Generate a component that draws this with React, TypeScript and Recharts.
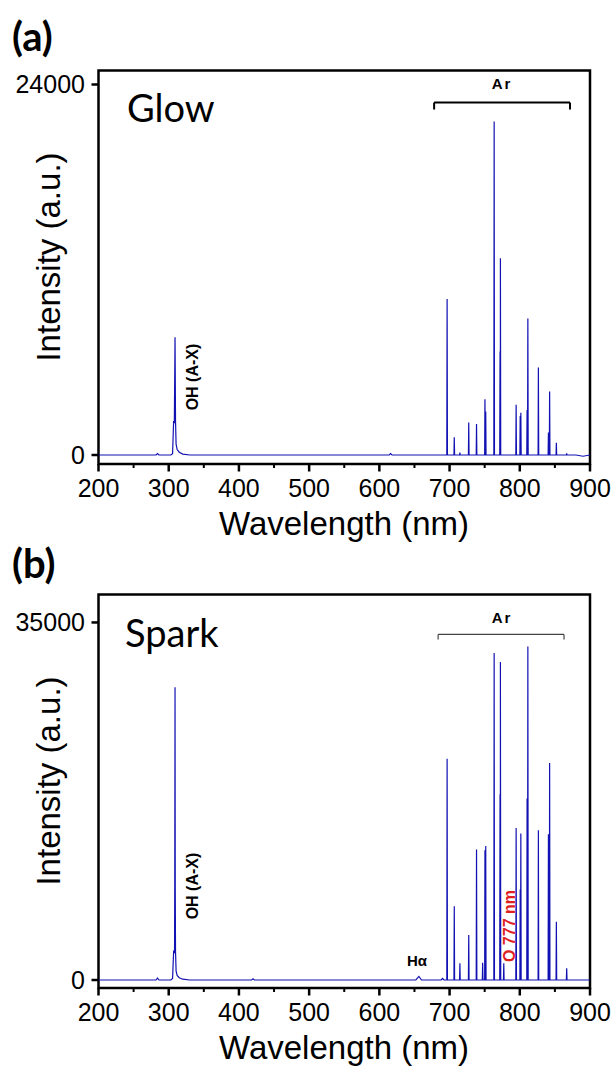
import React from "react";
import { LineChart, Line, XAxis, YAxis, ReferenceArea, ReferenceLine } from "recharts";

// ---------- data ----------
const xTicks = [200, 250, 300, 350, 400, 450, 500, 550, 600, 650, 700, 750, 800, 850, 900];

// Glow: broad/continuum features (nm, intensity)
const glowContNm = [200, 230, 282, 284, 286, 303, 305.5, 307, 308, 309, 309.7, 310.5, 312, 315, 320, 330, 614, 616, 618, 880, 890, 900];
const glowContI = [0, 0, 0, 90, 0, 0, 80, 2200, 2050, 7630, 2200, 700, 350, 180, 60, 0, 0, 90, 0, 0, -80, 0];
// Glow: Ar atomic lines
const glowPeakNm = [696.5, 706.7, 714.7, 727.3, 738.4, 750.4, 751.5, 763.5, 771.9, 772.4, 794.8, 800.6, 801.5, 810.4, 811.5, 826.5, 840.8, 842.5, 852.1, 866.8];
const glowPeakI = [10100, 1150, 150, 2100, 2010, 3610, 2810, 21600, 6700, 12750, 3260, 2530, 2740, 2920, 8840, 5660, 1450, 4110, 800, 110];

// Spark: broad/continuum features
const sparkContNm = [200, 245, 282, 284, 286, 303, 305.5, 307, 308.3, 308.6, 309, 309.3, 309.7, 310.5, 312, 315, 320, 330, 418, 420, 422, 652, 656.3, 660, 688, 690, 692, 900];
const sparkContI = [0, 0, 0, 200, 0, 0, 150, 2800, 2700, 9200, 28670, 9200, 2800, 900, 450, 220, 80, 0, 0, 120, 0, 0, 350, 0, 0, 150, 0, 0];
// Spark: Ar lines + O 777
const sparkPeakNm = [696.5, 706.7, 714.7, 727.3, 738.4, 747.1, 750.4, 751.5, 763.5, 771.9, 772.4, 777.2, 794.8, 800.6, 801.5, 810.4, 811.5, 826.5, 840.8, 842.5, 852.1, 866.8];
const sparkPeakI = [21670, 7230, 1630, 4400, 12780, 1700, 12700, 13130, 32000, 18180, 31120, 1630, 14890, 8870, 14340, 17760, 32650, 14660, 14270, 21240, 5700, 1140];

const glowYTicks = [0, 24000];
const sparkYTicks = [0, 35000];
const glowDomain = [-583, 24907];
const sparkDomain = [-782, 37737];

// ---------- build tables ----------
const HALF = 0.45;
function buildSpectrum(cNm: number[], cI: number[], pNm: number[], pI: number[]) {
  const rows: { nm: number; i: number }[] = [];
  cNm.forEach((n, k) => rows.push({ nm: n, i: cI[k] }));
  pNm.forEach((n, k) => {
    rows.push({ nm: n - HALF, i: 0 });
    rows.push({ nm: n, i: pI[k] });
    rows.push({ nm: n + HALF, i: 0 });
  });
  rows.sort((a, b) => a.nm - b.nm);
  return rows;
}
const glowData = buildSpectrum(glowContNm, glowContI, glowPeakNm, glowPeakI);
const sparkData = buildSpectrum(sparkContNm, sparkContI, sparkPeakNm, sparkPeakI);

const ARIAL = "'Liberation Sans', Arial, sans-serif";
const CALIBRI = "Lato, 'Open Sans', sans-serif";
const LINE = "#1212b4";

const XTick = (props: any) => {
  const { x, y, payload } = props;
  const major = payload.value % 100 === 0;
  return (
    <g>
      <line x1={x} y1={y} x2={x} y2={y + (major ? 7.5 : 4)} stroke="#000" strokeWidth={major ? 2.5 : 2} />
      {major && (
        <text x={x} y={y + 15} dy="0.71em" textAnchor="middle" fontSize={25} fontFamily={ARIAL} fill="#000">
          {payload.value}
        </text>
      )}
    </g>
  );
};

function Panel(props: {
  data: { nm: number; i: number }[];
  domain: number[];
  yTicks: number[];
  height: number;
  top: number;
  bracket: { x1: number; x2: number; y: number; drop: number; color: string; w: number };
}) {
  const { data, domain, yTicks, height, top, bracket } = props;
  return (
    <div style={{ position: "absolute", left: 0, top }}>
      <LineChart width={614} height={height} data={data} margin={{ top: 70.5, right: 24, left: 0, bottom: 0 }}>
        <XAxis
          dataKey="nm"
          type="number"
          domain={[200, 900]}
          ticks={xTicks}
          interval={0}
          allowDataOverflow
          axisLine={false}
          tickLine={false}
          tickSize={0}
          tickMargin={0}
          tick={<XTick />}
          height={height - 70.5 - 393.5}
        />
        <YAxis
          type="number"
          domain={domain}
          ticks={yTicks}
          interval={0}
          allowDataOverflow
          axisLine={false}
          tickLine={{ stroke: "#000", strokeWidth: 2.5 }}
          tickSize={7}
          tickMargin={6.5}
          width={98.5}
          tick={{ fill: "#000", fontSize: 25, fontFamily: ARIAL }}
        />
        <ReferenceArea x1={200} x2={900} y1={domain[0]} y2={domain[1]} fill="#fff" fillOpacity={0} stroke="#000" strokeWidth={2.5} ifOverflow="visible" />
        <ReferenceLine segment={[{ x: bracket.x1, y: bracket.y }, { x: bracket.x2, y: bracket.y }]} stroke={bracket.color} strokeWidth={bracket.w} ifOverflow="visible" />
        <ReferenceLine segment={[{ x: bracket.x1, y: bracket.y }, { x: bracket.x1, y: bracket.y - bracket.drop }]} stroke={bracket.color} strokeWidth={bracket.w} ifOverflow="visible" />
        <ReferenceLine segment={[{ x: bracket.x2, y: bracket.y }, { x: bracket.x2, y: bracket.y - bracket.drop }]} stroke={bracket.color} strokeWidth={bracket.w} ifOverflow="visible" />
        <Line type="linear" dataKey="i" stroke={LINE} strokeWidth={1.2} dot={false} isAnimationActive={false} />
      </LineChart>
    </div>
  );
}

export default function App() {
  return (
    <div style={{ position: "absolute", left: 0, top: 0, width: 614, height: 1072, background: "#fff", overflow: "hidden" }}>
      <Panel
        data={glowData}
        domain={glowDomain}
        yTicks={glowYTicks}
        height={540}
        top={0}
        bracket={{ x1: 678, x2: 871.5, y: 22830, drop: 450, color: "#000", w: 2 }}
      />
      <Panel
        data={sparkData}
        domain={sparkDomain}
        yTicks={sparkYTicks}
        height={548}
        top={523.5}
        bracket={{ x1: 683.7, x2: 863, y: 33826, drop: 500, color: "#444", w: 1.2 }}
      />
      <svg width={614} height={1072} style={{ position: "absolute", left: 0, top: 0, pointerEvents: "none" }}>
        <text x={12} y={51} fontSize={40} fontWeight="bold" fontFamily={CALIBRI} fill="#000">(a)</text>
        <text x={12} y={578} fontSize={40} fontWeight="bold" fontFamily={CALIBRI} fill="#000">(b)</text>
        <text x={127} y={122} fontSize={38} fontFamily={CALIBRI} fill="#000">Glow</text>
        <text x={125} y={647} fontSize={38} fontFamily={CALIBRI} fill="#000">Spark</text>

        <text x={502} y={89} fontSize={15} fontWeight="bold" fontFamily={ARIAL} letterSpacing={2} textAnchor="middle" fill="#000">Ar</text>
        <text x={502} y={623} fontSize={15} fontWeight="bold" fontFamily={ARIAL} letterSpacing={2} textAnchor="middle" fill="#000">Ar</text>

        <text x={192.5} y={377} dy="0.36em" transform="rotate(-90 192.5 377)" fontSize={16} fontWeight="bold" fontFamily={ARIAL} textAnchor="middle" fill="#000">OH (A-X)</text>
        <text x={192.5} y={886} dy="0.36em" transform="rotate(-90 192.5 886)" fontSize={16} fontWeight="bold" fontFamily={ARIAL} textAnchor="middle" fill="#000">OH (A-X)</text>
        <text x={417} y={961} dy="0.36em" fontSize={15} fontWeight="bold" fontFamily={ARIAL} textAnchor="middle" fill="#000">Hα</text>
        <text x={509.7} y={926} dy="0.36em" transform="rotate(-90 509.7 926)" fontSize={16} fontWeight="bold" fontFamily={ARIAL} textAnchor="middle" fill="#e0201f">O 777 nm</text>

        <text x={59.5} y={257} transform="rotate(-90 59.5 257)" fontSize={33} fontFamily={ARIAL} textAnchor="middle" fill="#000">Intensity (a.u.)</text>
        <text x={59.5} y={781} transform="rotate(-90 59.5 781)" fontSize={33} fontFamily={ARIAL} textAnchor="middle" fill="#000">Intensity (a.u.)</text>
        <text x={344} y={535} fontSize={33} fontFamily={ARIAL} textAnchor="middle" fill="#000">Wavelength (nm)</text>
        <text x={344} y={1059} fontSize={33} fontFamily={ARIAL} textAnchor="middle" fill="#000">Wavelength (nm)</text>
      </svg>
    </div>
  );
}
